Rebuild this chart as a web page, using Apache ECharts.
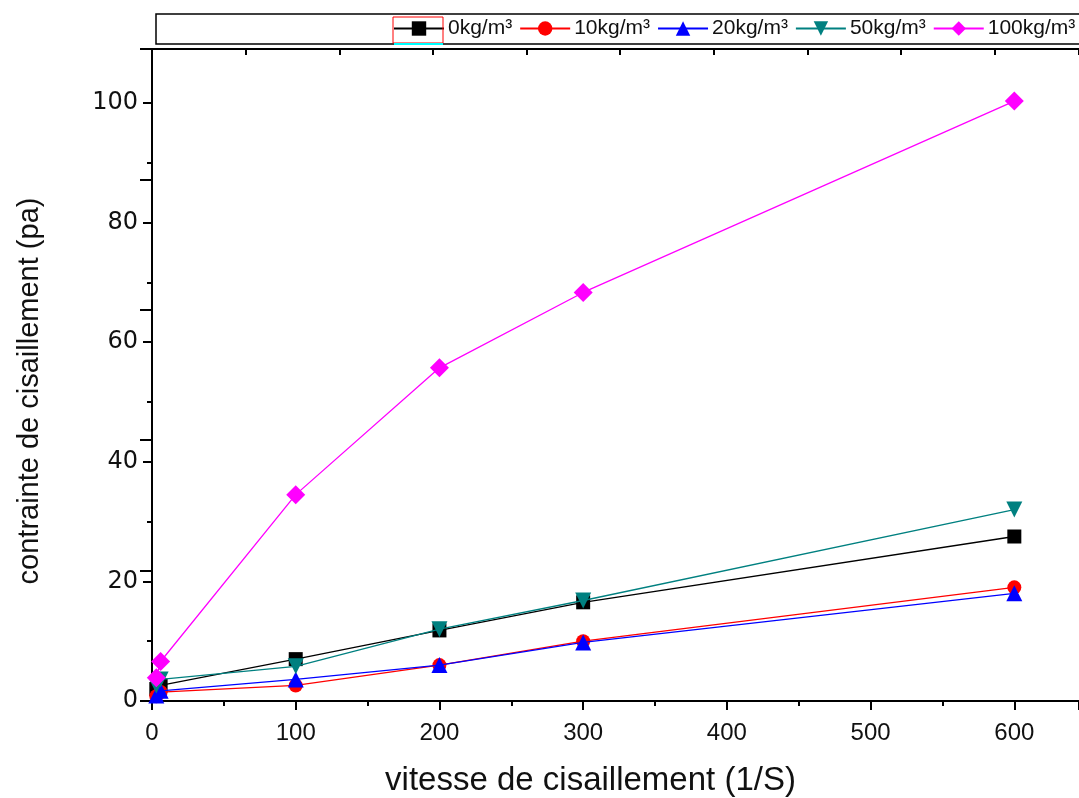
<!DOCTYPE html>
<html>
<head>
<meta charset="utf-8">
<script src="https://cdn.jsdelivr.net/npm/echarts@6/dist/echarts.min.js"></script>
<style>
html,body{margin:0;padding:0;background:#fff;}
#chart{width:1079px;height:798px;}
</style>
</head>
<body>
<div id="chart"></div>
<script>
// Shear rate (1/S)
const shearRates = [3, 6, 100, 200, 300, 600];
const seriesNames = ['0kg/m³', '10kg/m³', '20kg/m³', '50kg/m³', '100kg/m³'];
// Shear stress (pa)
const stress0 = [2.0, 2.6, 7.0, 11.8, 16.5, 27.5];
const stress10 = [0.8, 1.5, 2.6, 6.0, 10.0, 19.0];
const stress20 = [0.9, 1.7, 3.6, 6.0, 9.8, 18.0];
const stress50 = [2.6, 3.6, 5.8, 12.0, 16.8, 32.0];
const stress100 = [3.9, 6.6, 34.5, 55.7, 68.3, 100.3];

const seriesValues = [stress0, stress10, stress20, stress50, stress100];
const colors = ['#000000', '#ff0000', '#0000ff', '#008080', '#ff00ff'];
const symbols = ['rect', 'circle', 'triangle', 'triangle', 'diamond'];
const symbolSizes = [14, 14, 16, 16, 19];
const rotations = [0, 0, 0, 180, 0];

const chart = echarts.init(document.getElementById('chart'), null, {renderer: 'canvas'});

const series = seriesNames.map((name, i) => ({
  name: name,
  type: 'line',
  xAxisIndex: 0,
  yAxisIndex: 0,
  data: shearRates.map((x, j) => [x, seriesValues[i][j]]),
  symbol: symbols[i],
  symbolSize: symbolSizes[i],
  symbolRotate: rotations[i],
  showAllSymbol: true,
  lineStyle: {color: colors[i], width: 1.3},
  itemStyle: {color: colors[i]},
  emphasis: {disabled: true},
  animation: false,
  z: 2 + i
}));

const option = {
  backgroundColor: '#ffffff',
  animation: false,
  grid: {left: 152, right: 0, top: 49, bottom: 97, containLabel: false, outerBoundsMode: 'none'},
  legend: {
    left: 393,
    top: 18,
    itemWidth: 50,
    itemHeight: 18,
    itemGap: 7,
    padding: 0,
    textStyle: {fontFamily: 'Liberation Sans', fontSize: 21, color: '#111', padding: [0, 0, 0, -1]},
    data: seriesNames
  },
  xAxis: [{
    type: 'value',
    position: 'bottom',
    min: 0,
    max: 645,
    interval: 100,
    name: 'vitesse de cisaillement (1/S)',
    nameLocation: 'middle',
    nameGap: 63,
    nameTextStyle: {fontFamily: 'Liberation Sans', fontSize: 33, color: '#111', padding: [0, 50, 0, 0]},
    axisLine: {show: true, onZero: false, lineStyle: {color: '#000', width: 2}},
    axisTick: {show: true, inside: false, length: 9, lineStyle: {color: '#000', width: 2}},
    minorTick: {show: true, splitNumber: 2, length: 5, lineStyle: {color: '#000', width: 2}},
    splitLine: {show: false},
    axisLabel: {fontFamily: 'Liberation Sans', fontSize: 24, color: '#111', margin: 20, showMaxLabel: false}
  }, {
    type: 'value',
    position: 'top',
    min: 0,
    max: 9.9,
    interval: 1,
    axisLine: {show: true, onZero: false, lineStyle: {color: '#000', width: 2}},
    axisTick: {show: true, inside: true, length: 6, lineStyle: {color: '#000', width: 2}},
    axisLabel: {show: false},
    splitLine: {show: false}
  }],
  yAxis: [{
    type: 'value',
    position: 'left',
    min: 0,
    max: 109,
    interval: 20,
    name: 'contrainte de cisaillement (pa)',
    nameLocation: 'middle',
    nameGap: 108,
    nameTextStyle: {fontFamily: 'Liberation Sans', fontSize: 29, color: '#111', padding: [0, 32, 0, 0]},
    axisLine: {show: true, onZero: false, lineStyle: {color: '#000', width: 2}},
    axisTick: {show: true, inside: false, length: 9, lineStyle: {color: '#000', width: 2}},
    minorTick: {show: true, splitNumber: 2, length: 5, lineStyle: {color: '#000', width: 2}},
    splitLine: {show: false},
    axisLabel: {fontFamily: 'DejaVu Sans', fontSize: 24, color: '#111', margin: 14, showMaxLabel: false}
  }, {
    type: 'value',
    position: 'right',
    min: 0,
    max: 5,
    interval: 1,
    axisLine: {show: false},
    axisTick: {show: true, inside: true, length: 12, lineStyle: {color: '#000', width: 2}},
    axisLabel: {show: false},
    splitLine: {show: false}
  }],
  graphic: [
    {type: 'rect', shape: {x: 156, y: 14, width: 940, height: 30}, style: {fill: 'none', stroke: '#000', lineWidth: 1.5}, z: 0, silent: true},
    {type: 'rect', shape: {x: 393, y: 17, width: 50, height: 26}, style: {fill: 'none', stroke: '#ff0000', lineWidth: 1}, z: 10, silent: true},
    {type: 'line', shape: {x1: 394, y1: 44, x2: 443, y2: 44}, style: {stroke: '#00ffff', lineWidth: 2}, z: 10, silent: true}
  ],
  series: series
};

chart.setOption(option);
</script>
</body>
</html>
